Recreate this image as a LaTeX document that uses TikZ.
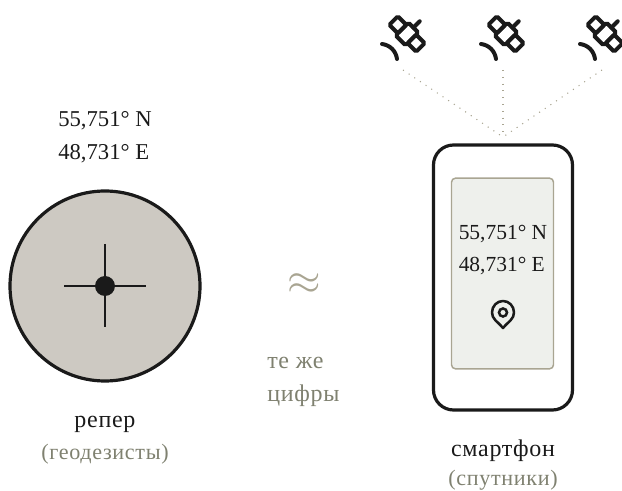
\documentclass[tikz,border=0pt]{standalone}
\usepackage{fontspec}
\setmainfont{Liberation Serif}
\newfontfamily\widefont[LetterSpace=3]{Liberation Serif}
\usetikzlibrary{positioning}
\definecolor{ink}{HTML}{1A1A1A}
\definecolor{stone}{HTML}{CDC9C2}
\definecolor{paper}{HTML}{EEF0EC}
\definecolor{edge}{HTML}{A9A592}
\definecolor{moss}{HTML}{7F8170}
\tikzset{
  coords/.style={font=\fontsize{17}{24.8}\selectfont,align=left,text=ink,inner sep=0pt},
  name label/.style={font=\widefont\fontsize{18}{20}\selectfont,text=ink,inner sep=0pt},
  sub label/.style={font=\widefont\fontsize{16.6}{20}\selectfont,text=moss,inner sep=0pt},
  ray/.style={edge,line width=.8pt,dash pattern=on .8pt off 4.3pt},
  satellite/.pic={
    \begin{scope}[line width=3pt,ink,rounded corners=1.2pt,line cap=round]
      \draw[rotate=-45] (-7,-9) rectangle (7,9);
      \draw[rotate=-45] (-19,-6) rectangle (-7,6);
      \draw[rotate=-45] (7,-6) rectangle (19,6);
      \draw[rotate=-45] (0,-9) -- (0,-18);
      \draw (-25,10) .. controls (-17,11) and (-11,17) .. (-10,25);
    \end{scope}
  }
}
\begin{document}
\begin{tikzpicture}[x=.75pt,y=-.75pt]
  \useasboundingbox (0,0) rectangle (622,491);
  % Benchmark
  \node[circle,draw=ink,fill=stone,line width=2.4pt,minimum size=142.5pt,inner sep=0pt] (reper) at (105,286) {};
  \draw[ink,line width=1.6pt] (64,286) -- (146,286);
  \draw[ink,line width=1.6pt] (105,244) -- (105,327);
  \node[circle,fill=ink,minimum size=15pt,inner sep=0pt] (mark) at (reper.center) {};
  \node[coords] (coordsA) at (105,137.5) {55,751° N\\48,731° E};
  \node[name label] (reperName) at (105,424) {репер};
  \node[sub label] (reperSub) at (105,454) {(геодезисты)};
  % Middle
  \node[font=\fontsize{24}{24}\selectfont,text=edge,inner sep=0pt] (approx) at (304,284) {\scalebox{1.3}{$\approx$}};
  \node[sub label,align=left,anchor=north west,font=\widefont\fontsize{18}{24.8}\selectfont] (same) at (267,357) {те же\\цифры};
  % Phone
  \node[draw=ink,line width=2.4pt,rounded corners=15pt,minimum width=104.25pt,minimum height=198.75pt,inner sep=0pt] (phone) at (503,277.5) {};
  \node[draw=edge,fill=paper,line width=1.1pt,rounded corners=3pt,minimum width=76.5pt,minimum height=143pt,inner sep=0pt] (screen) at (502.5,273.5) {};
  \node[coords,font=\fontsize{16.1}{24}\selectfont] (coordsB) at (503,250.5) {55,751° N\\48,731° E};
  \draw[ink,line width=1.9pt,line join=round] (503,328) .. controls (497,321) and (492,319) .. (492,312.5)
    .. controls (492,306) and (497,301) .. (503,301) .. controls (509,301) and (514,306) .. (514,312.5)
    .. controls (514,319) and (509,321) .. (503,328) -- cycle;
  \draw[ink,line width=1.9pt] (503,312.5) circle[radius=3pt];
  \node[name label] (phoneName) at (503,451) {смартфон};
  \node[sub label] (phoneSub) at (503,480.5) {(спутники)};
  % Satellites
  \pic at (407,34) {satellite};
  \pic at (506,34) {satellite};
  \pic at (605,34) {satellite};
  \coordinate (apex) at (503,137);
  \coordinate (rayA) at (403,70);
  \coordinate (rayB) at (503,70);
  \coordinate (rayC) at (602,70);
  \draw[ray] (rayA) -- (apex);
  \draw[ray] (rayB) -- (apex);
  \draw[ray] (rayC) -- (apex);
\end{tikzpicture}
\end{document}
